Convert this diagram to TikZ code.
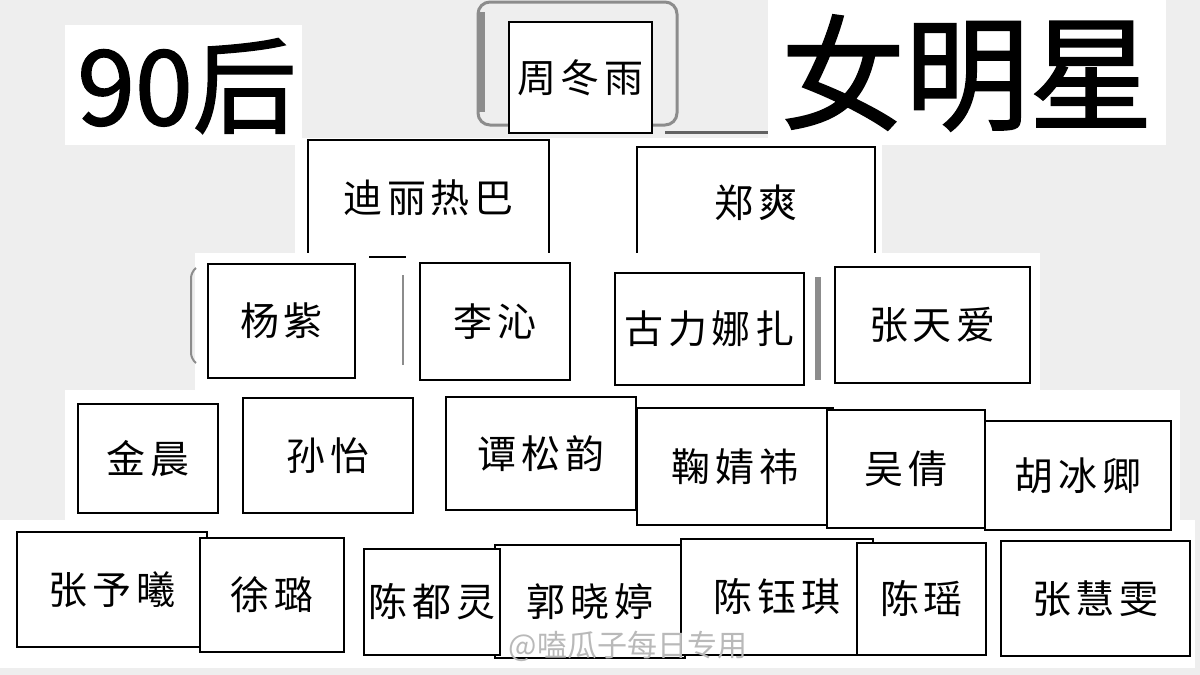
\documentclass[tikz,border=0pt]{standalone}
\usepackage{fontspec}
\setmainfont{Noto Sans CJK SC}
\newfontfamily\cjk[LetterSpace=12]{Noto Sans CJK SC}
\newfontfamily\titlefont[FakeBold=1.5]{Noto Sans CJK SC}
\definecolor{bggray}{HTML}{EEEEEE}
\definecolor{framegray}{HTML}{8C8C8C}

\begin{document}
\begin{tikzpicture}[x=0.5pt,y=-0.5pt,
    namebox/.style={draw,line width=1.2pt,fill=white,inner sep=0pt,
        font=\cjk\fontsize{19.5}{20}\selectfont},
    backdrop/.style={fill=white}]
\useasboundingbox (0,0) rectangle (1200,675);
\fill[bggray] (0,0) rectangle (1200,675);
% white patches
\fill[backdrop] (65,25) rectangle (302,145);
\fill[backdrop] (768,0) rectangle (1166,145);
\fill[backdrop] (295,138) rectangle (882,258);
\fill[backdrop] (65,390) rectangle (1180,532);
\fill[backdrop] (0,520) rectangle (1195,668);
% titles
\node[font=\titlefont\fontsize{52}{52}\selectfont] (t90) at (187,86) {90后};
\node[font=\titlefont\fontsize{62}{62}\selectfont] (tstar) at (967,73) {女明星};
% top
\draw[framegray,line width=1.5pt,rounded corners=6pt] (478,2) rectangle (677,125);
\draw[framegray,line width=4pt] (481,12) -- (481,112);
\draw[framegray!70!black,line width=1.5pt] (665,132) -- (768,132);
\node[namebox,minimum width=71.5pt,minimum height=55.5pt] (zdy) at (580.5,77.5) {周冬雨};
% row 1
\node[namebox,minimum width=120.5pt,minimum height=57.5pt] (dlrb) at (428.5,197.5) {迪丽热巴};
\node[namebox,minimum width=119pt,minimum height=55.5pt] (zs) at (756,202.5) {郑爽};
\fill[backdrop] (195,253) rectangle (1040,395);
\draw[line width=1.2pt] (369,257) -- (406,257);
% row 2
\draw[framegray,line width=1pt,rounded corners=3pt] (196,268) -- (191,272) -- (191,359) -- (196,363);
\draw[framegray,line width=1pt] (403,275) -- (403,365);
\draw[framegray,line width=3pt] (818,277) -- (818,380);
\node[namebox,minimum width=73.5pt,minimum height=57pt] (yz) at (281.5,321) {杨紫};
\node[namebox,minimum width=75pt,minimum height=58.5pt] (lq) at (495,321.5) {李沁};
\node[namebox,minimum width=94.5pt,minimum height=56pt] (glnz) at (709.5,329) {古力娜扎};
\node[namebox,minimum width=97.5pt,minimum height=58pt] (zta) at (932.5,325) {张天爱};
% row 3
\node[namebox,minimum width=70pt,minimum height=54.5pt] (jc) at (148,458.5) {金晨};
\node[namebox,minimum width=85pt,minimum height=57.5pt] (sy) at (328,455.5) {孙怡};
\node[namebox,minimum width=95pt,minimum height=56.5pt] (tsy) at (541,453.5) {谭松韵};
\node[namebox,minimum width=98pt,minimum height=58.5pt] (jjy) at (735,466.5) {鞠婧祎};
\node[namebox,minimum width=79pt,minimum height=59pt] (wq) at (906,469) {吴倩};
\node[namebox,minimum width=93pt,minimum height=54.5pt] (hbq) at (1078,475.5) {胡冰卿};
% row 4
\node[namebox,minimum width=95pt,minimum height=57.5pt] (zyx) at (112,589.5) {张予曦};
\node[namebox,minimum width=72pt,minimum height=57pt] (xl) at (272,595) {徐璐};
\node[namebox,minimum width=95pt,minimum height=56.5pt] (gxt) at (590,601.5) {郭晓婷};
\node[namebox,minimum width=68pt,minimum height=53pt] (cdl) at (432,602) {陈都灵};
\node[namebox,minimum width=96pt,minimum height=58pt] (cyq) at (777,597) {陈钰琪};
\node[namebox,minimum width=64.5pt,minimum height=56pt] (cy) at (921.5,599) {陈瑶};
\node[namebox,minimum width=94.5pt,minimum height=57.5pt] (zhw) at (1095.5,598.5) {张慧雯};
% watermark
\node[text=gray!55,font=\fontsize{15}{15}\selectfont] (wm) at (628,646) {@嗑瓜子每日专用};
\end{tikzpicture}
\end{document}
